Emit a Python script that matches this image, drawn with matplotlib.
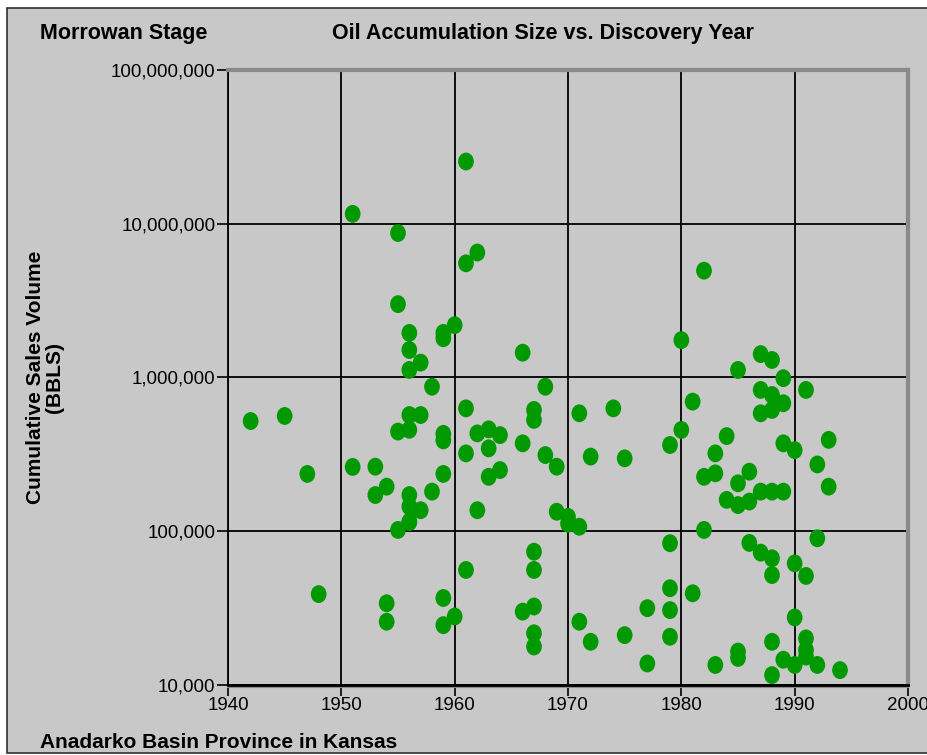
import matplotlib
matplotlib.use("Agg")
import matplotlib.pyplot as plt
import matplotlib.patches as mpatches
from matplotlib.path import Path
from matplotlib.ticker import FixedLocator, FuncFormatter
import numpy as np


# ── Data (discovery year, cumulative sales BBLS) ──
years = [
    1942, 1945, 1947, 1948,
    1951, 1951, 1953, 1953, 1954, 1954, 1954,
    1955, 1955, 1955, 1955,
    1956, 1956, 1956, 1956, 1956, 1956, 1956, 1956, 1956,
    1957, 1957, 1957, 1958, 1958,
    1959, 1959, 1959, 1959, 1959, 1959, 1959,
    1960, 1960,
    1961, 1961, 1961, 1961, 1961,
    1962, 1962, 1962,
    1963, 1963, 1963, 1964, 1964,
    1966, 1966, 1966,
    1967, 1967, 1967, 1967, 1967, 1967, 1967,
    1968, 1968, 1969, 1969, 1970, 1970,
    1971, 1971, 1971, 1972, 1972, 1974, 1975, 1975,
    1977, 1977,
    1979, 1979, 1979, 1979, 1979,
    1980, 1980, 1981, 1981,
    1982, 1982, 1982,
    1983, 1983, 1983,
    1984, 1984,
    1985, 1985, 1985, 1985, 1985,
    1986, 1986, 1986,
    1987, 1987, 1987, 1987, 1987,
    1988, 1988, 1988, 1988, 1988, 1988, 1988, 1988,
    1989, 1989, 1989, 1989, 1989,
    1990, 1990, 1990, 1990,
    1991, 1991, 1991, 1991, 1991,
    1992, 1992, 1992,
    1993, 1993, 1994,
]
volumes = [
    521000, 562000, 236000, 39000,
    11600000, 262000, 263000, 172000, 195000, 34000, 25800,
    8700000, 3000000, 445000, 102000,
    1950000, 1510000, 1120000, 570000, 457000, 172000, 145000, 115000, 115000,
    1250000, 570000, 137000, 871000, 181000,
    1950000, 1800000, 430000, 390000, 236000, 36800, 24500,
    2190000, 27900,
    25400000, 5530000, 630000, 321000, 56000,
    6500000, 433000, 137000,
    460000, 346000, 226000, 422000, 250000,
    1450000, 373000, 30000,
    615000, 530000, 73600, 56000, 32400, 21700, 17800,
    871000, 313000, 263000, 134000, 124000, 112000,
    585000, 107000, 25800, 306000, 19100, 630000, 298000, 21100,
    31600, 13800,
    364000, 83600, 42600, 30700, 20600,
    1750000, 456000, 697000, 39500,
    4950000, 226000, 102000,
    321000, 238000, 13500,
    416000, 160000,
    1120000, 205000, 148000, 16500, 15000,
    244000, 156000, 84000,
    1420000, 830000, 585000, 181000, 72600,
    1300000, 770000, 615000, 181000, 66700, 51900, 19100, 11600,
    990000, 680000, 373000, 181000, 14600,
    337000, 61800, 27500, 13500,
    830000, 51200, 20100, 16900, 15300,
    272000, 90000, 13500,
    393000, 195000, 12500,
]

x_ticks = [1940, 1950, 1960, 1970, 1980, 1990, 2000]
y_ticks = [1e4, 1e5, 1e6, 1e7, 1e8]

BG = "#c8c8c8"
GREEN = "#009900"
FONT = ["Liberation Sans Narrow", "Liberation Sans", "DejaVu Sans"]

fig = plt.figure(figsize=(9.28, 7.55), dpi=100, facecolor="white")

# grey panel with thin dark frame (behind the axes)
panel = mpatches.Rectangle((7 / 928, 2 / 755), 1.0, 745 / 755,
                           transform=fig.transFigure, facecolor=BG,
                           edgecolor="#303030", linewidth=1.2, zorder=-10)
fig.patches.append(panel)

ax = fig.add_axes([228 / 928, 70 / 755, 680 / 928, 615 / 755])
ax.set_facecolor(BG)
ax.set_yscale("log")
ax.set_xlim(1940, 2000)
ax.set_ylim(1e4, 1e8)

# grid
ax.xaxis.set_major_locator(FixedLocator(x_ticks))
ax.yaxis.set_major_locator(FixedLocator(y_ticks))
ax.yaxis.set_minor_locator(FixedLocator([]))
ax.yaxis.set_major_formatter(FuncFormatter(lambda v, p: f"{int(round(v)):,}"))
ax.grid(True, which="major", color="black", linewidth=1.3)
ax.set_axisbelow(True)

# spines: left/bottom black, top/right grey
ax.spines["left"].set_color("black")
ax.spines["left"].set_linewidth(1.3)
ax.spines["bottom"].set_color("black")
ax.spines["bottom"].set_linewidth(2.0)
for s in ("top", "right"):
    ax.spines[s].set_color("#8a8a8a")
    ax.spines[s].set_linewidth(3.0)
# grey shadow just under the bottom axis line
ax.plot([0, 1], [-0.004, -0.004], transform=ax.transAxes, color="#8a8a8a",
        linewidth=1.5, clip_on=False, zorder=2.5)

ax.tick_params(axis="both", which="major", direction="out", length=8,
               width=1.2, color="black", labelsize=13.5, pad=1)
for lab in ax.get_xticklabels() + ax.get_yticklabels():
    lab.set_family(FONT)

# slightly tall oval marker like the original
circ = Path.unit_circle()
oval = Path(circ.vertices * np.array([0.88, 1.0]), circ.codes)

ax.scatter(years, volumes, s=165, marker=oval, color=GREEN,
           edgecolors="none", zorder=3, clip_on=False)

# labels and titles
ax.set_ylabel("Cumulative Sales Volume\n(BBLS)", fontsize=15,
              fontweight="bold", family=FONT, linespacing=1.0)
ax.yaxis.set_label_coords(-164 / 680, 0.5)

fig.text(40 / 928, 1 - 34 / 755, "Morrowan Stage", fontsize=15.5,
         fontweight="bold", family=FONT, ha="left", va="center")
fig.text(543 / 928, 1 - 34 / 755, "Oil Accumulation Size vs. Discovery Year",
         fontsize=15.5, fontweight="bold", family=FONT,
         ha="center", va="center")
fig.text(40 / 928, 1 - 742 / 755, "Anadarko Basin Province in Kansas",
         fontsize=15, fontweight="bold", family=FONT,
         ha="left", va="center")

plt.savefig("out.png", dpi=100, facecolor=fig.get_facecolor())
plt.close()
